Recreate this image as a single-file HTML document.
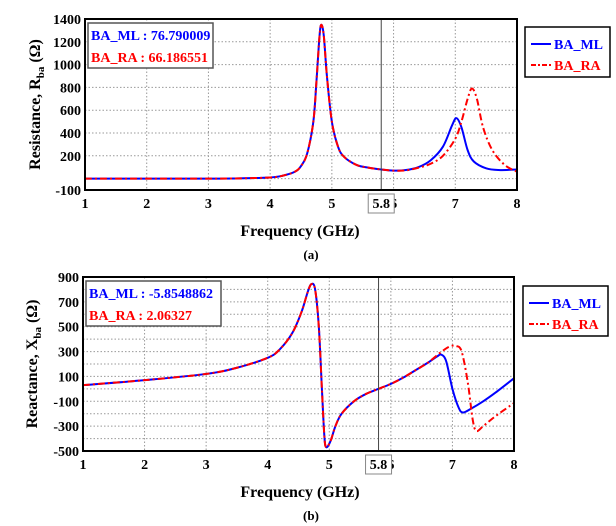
<!DOCTYPE html>
<html><head><meta charset="utf-8"><style>
html,body{margin:0;padding:0;background:#fff;}
svg{display:block;font-family:"Liberation Serif",serif;font-weight:bold;}
</style></head><body>
<svg id="s" width="616" height="526" viewBox="0 0 616 526" xmlns="http://www.w3.org/2000/svg"></svg>
<script>
const fA=[1,2,3,3.5,4,4.2,4.4,4.5,4.6,4.7,4.75,4.8,4.83,4.87,4.92,5.0,5.1,5.2,5.4,5.6,5.8,6.0,6.2,6.4,6.6,6.8,6.95,7.02,7.1,7.2,7.3,7.5,7.7,8];
const rML=[0,0,0,2,10,25,60,110,220,500,850,1250,1350,1250,900,500,280,190,120,95,80,70,75,100,160,280,470,530,450,250,150,90,75,80];
const fA2=[1,2,3,3.5,4,4.2,4.4,4.5,4.6,4.7,4.75,4.8,4.83,4.87,4.92,5.0,5.1,5.2,5.4,5.6,5.8,6.0,6.2,6.4,6.6,6.8,7.0,7.1,7.2,7.27,7.35,7.45,7.6,7.8,8];
const rRA=[0,0,0,2,10,25,60,110,220,500,850,1250,1350,1250,900,500,280,190,120,95,80,70,72,95,130,200,350,500,700,790,700,450,250,120,60];
const fB=[1,2,3,3.5,4,4.2,4.4,4.55,4.65,4.71,4.77,4.83,4.88,4.92,4.95,5.02,5.1,5.2,5.4,5.6,5.8,6.0,6.2,6.4,6.6,6.75,6.82,6.9,7.0,7.1,7.17,7.3,7.5,7.7,8];
const xML=[30,70,120,170,250,320,450,620,780,843,800,500,0,-380,-470,-420,-300,-200,-100,-40,0,40,90,150,210,260,275,220,0,-150,-190,-160,-100,-30,85];
const fB2=[1,2,3,3.5,4,4.2,4.4,4.55,4.65,4.71,4.77,4.83,4.88,4.92,4.95,5.02,5.1,5.2,5.4,5.6,5.8,6.0,6.2,6.4,6.6,6.8,6.95,7.06,7.15,7.25,7.33,7.39,7.5,7.7,8];
const xRA=[30,70,120,170,250,320,450,620,780,843,800,500,0,-380,-470,-420,-300,-200,-100,-40,0,40,90,150,210,290,340,345,300,50,-250,-339,-300,-220,-114];
const xTicks=["1","2","3","4","5","","7","8"];
const yTicksA=[1400,1200,1000,800,600,400,200,-100];
const yTicksB=[900,700,500,300,100,-100,-300,-500];

const svg=document.getElementById('s');
const NS="http://www.w3.org/2000/svg";
function mk(tag,attrs,parent){const e=document.createElementNS(NS,tag);for(const k in attrs)e.setAttribute(k,attrs[k]);(parent||svg).appendChild(e);return e;}
function path(fx,fy,xs,ys){
  const p=xs.map((x,i)=>[fx(x),fy(ys[i])]);
  let d="M"+p[0][0]+","+p[0][1];
  for(let i=0;i<p.length-1;i++){
    const p0=p[Math.max(0,i-1)],p1=p[i],p2=p[i+1],p3=p[Math.min(p.length-1,i+2)];
    const c1=[p1[0]+(p2[0]-p0[0])/6,p1[1]+(p2[1]-p0[1])/6];
    const c2=[p2[0]-(p3[0]-p1[0])/6,p2[1]-(p3[1]-p1[1])/6];
    d+=" C"+c1[0].toFixed(2)+","+c1[1].toFixed(2)+" "+c2[0].toFixed(2)+","+c2[1].toFixed(2)+" "+p2[0].toFixed(2)+","+p2[1].toFixed(2);
  }
  return d;
}
function panel(o){
  const g=mk('g',{});
  
  
  const fx=f=>o.L+(f-1)*(o.R-o.L)/7;
  const fy=v=>o.B-(v-o.ymin)*(o.B-o.T)/(o.ymax-o.ymin);
  for(const v of o.grid){const l=mk('line',{x1:o.L,x2:o.R,y1:fy(v),y2:fy(v),stroke:'#999','stroke-width':1,'stroke-dasharray':'1.5,2'},g);}
  for(let f=2;f<=7;f++){const l=mk('line',{x1:fx(f),x2:fx(f),y1:o.T,y2:o.B,stroke:'#999','stroke-width':1,'stroke-dasharray':'1.5,2'},g);}
  const c=mk('path',{d:path(fx,fy,o.fx1,o.y1),fill:'none',stroke:'#0000ff','stroke-width':2},g);
  
  const c2=mk('path',{d:path(fx,fy,o.fx2,o.y2),fill:'none',stroke:'#ff0000','stroke-width':2,'stroke-dasharray':'7,3,2,3'},g);
  
  const m=mk('line',{x1:fx(5.8),x2:fx(5.8),y1:o.T,y2:o.B,stroke:'#444','stroke-width':1},g);
  
  const fr=mk('rect',{x:o.L,y:o.T,width:o.R-o.L,height:o.B-o.T,fill:'none',stroke:'#000','stroke-width':2},g);
  
  o.yt.forEach(v=>{const t=mk('text',{x:o.L-4,y:fy(v)+5,'text-anchor':'end','font-size':14},g);t.textContent=v;});
  xTicks.forEach((s,i)=>{if(!s)return;const t=mk('text',{x:fx(i+1),y:o.B+18,'text-anchor':'middle','font-size':14},g);t.textContent=s;});
  const t6=mk('text',{x:fx(6),y:o.B+18,'text-anchor':'middle','font-size':14},g);t6.textContent='6';
  const mb=mk('rect',{x:fx(5.8)-13,y:o.B+4,width:26,height:19,fill:'#fff',stroke:'#888','stroke-width':1},g);
  
  const mt=mk('text',{x:fx(5.8),y:o.B+18,'text-anchor':'middle','font-size':14},g);mt.textContent='5.8';
  const xt=mk('text',{x:300,y:o.B+46,'text-anchor':'middle','font-size':16},g);xt.textContent='Frequency (GHz)';
  const cap=mk('text',{x:311,y:o.B+69,'text-anchor':'middle','font-size':13},g);cap.textContent=o.cap;
  const yt=mk('text',{transform:`translate(${o.ytx},${(o.T+o.B)/2}) rotate(-90)`,'text-anchor':'middle','font-size':16},g);
  
  yt.innerHTML=o.ytitle+' <tspan font-size="16">'+o.sym+'</tspan><tspan font-size="11" dy="4">ba</tspan><tspan dy="-4"> (Ω)</tspan>';
  const rb=mk('rect',{x:o.L+3,y:o.T+4,width:o.rbw,height:45,fill:'#fff',stroke:'#555','stroke-width':1.5},g);
  
  const r1=mk('text',{x:o.L+6,y:o.T+21,'font-size':14,fill:'#0000ff'},g);r1.textContent=o.r1;
  const r2=mk('text',{x:o.L+6,y:o.T+43,'font-size':14,fill:'#ff0000'},g);r2.textContent=o.r2;
  const lg=mk('g',{},g);
  mk('rect',{x:o.lx,y:o.ly,width:85,height:50,fill:'#fff',stroke:'#000','stroke-width':1.5},lg);
  mk('line',{x1:o.lx+6,x2:o.lx+26,y1:o.ly+17,y2:o.ly+17,stroke:'#0000ff','stroke-width':2},lg);
  mk('line',{x1:o.lx+6,x2:o.lx+26,y1:o.ly+38,y2:o.ly+38,stroke:'#ff0000','stroke-width':2,'stroke-dasharray':'5,2,2,2'},lg);
  const l1=mk('text',{x:o.lx+29,y:o.ly+22,'font-size':14,fill:'#0000ff'},lg);l1.textContent='BA_ML';
  const l2=mk('text',{x:o.lx+29,y:o.ly+43,'font-size':14,fill:'#ff0000'},lg);l2.textContent='BA_RA';
}
panel({name:'resistance-chart',L:85,R:517,T:19,B:190,ymin:-100,ymax:1400,grid:[0,200,400,600,800,1000,1200],yt:yTicksA,
  fx1:fA,y1:rML,fx2:fA2,y2:rRA,cap:'(a)',ytitle:'Resistance,',sym:'R',ytx:40,r1:'BA_ML : 76.790009',r2:'BA_RA : 66.186551',lx:525,ly:27,rbw:125});
panel({name:'reactance-chart',L:83,R:514,T:277,B:451,ymin:-500,ymax:900,grid:[-400,-300,-200,-100,0,100,200,300,400,500,600,700,800],yt:yTicksB,
  fx1:fB,y1:xML,fx2:fB2,y2:xRA,cap:'(b)',ytitle:'Reactance,',sym:'X',ytx:37,r1:'BA_ML : -5.8548862',r2:'BA_RA : 2.06327',lx:523,ly:286,rbw:135});
</script>
</body></html>
